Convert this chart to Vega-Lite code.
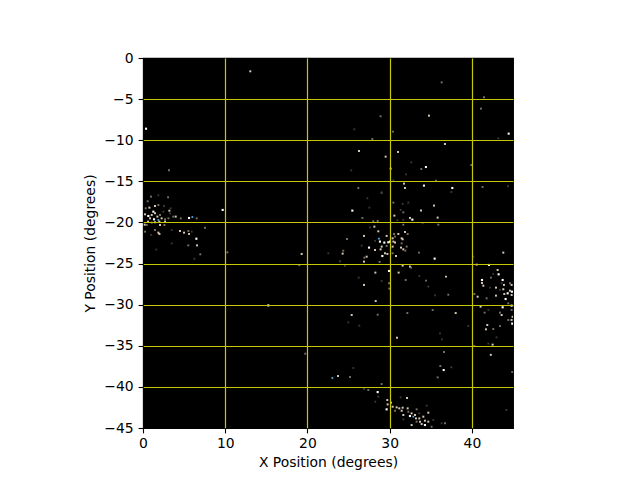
{"$schema":"https://vega.github.io/schema/vega-lite/v6.json","autosize":"none","padding":{"left":143,"top":58,"right":127,"bottom":52},"width":370,"height":370,"background":"white","view":{"fill":"black","stroke":"black","strokeWidth":1.1},
"data":{"values":[
{"x":36.32,"y":-2.96,"c":"g"},{"x":41.47,"y":-4.78,"c":"g"},{"x":41.1,"y":-6.16,"c":"g"},{"x":34.78,"y":-7.01,"c":"t"},{"x":28.9,"y":-7.09,"c":"g"},{"x":25.7,"y":-8.67,"c":"d"},{"x":30.4,"y":-8.96,"c":"g"},{"x":27.89,"y":-9.85,"c":"g"},{"x":44.47,"y":-9.2,"c":"w"},{"x":43.21,"y":-9.77,"c":"d"},{"x":36.72,"y":-10.46,"c":"t"},{"x":26.27,"y":-11.31,"c":"t"},{"x":31.01,"y":-11.43,"c":"t"},{"x":29.51,"y":-12.0,"c":"t"},{"x":32.63,"y":-12.69,"c":"d"},{"x":30.12,"y":-13.46,"c":"t"},{"x":25.33,"y":-13.66,"c":"d"},{"x":39.93,"y":-13.01,"c":"g"},{"x":34.41,"y":-13.26,"c":"w"},{"x":33.85,"y":-13.5,"c":"g"},{"x":31.98,"y":-14.15,"c":"d"},{"x":30.44,"y":-14.88,"c":"d"},{"x":35.63,"y":-14.92,"c":"g"},{"x":31.74,"y":-15.28,"c":"t"},{"x":34.17,"y":-15.52,"c":"w"},{"x":37.62,"y":-15.81,"c":"W"},{"x":31.86,"y":-15.81,"c":"t"},{"x":26.19,"y":-15.81,"c":"g"},{"x":41.3,"y":-15.69,"c":"g"},{"x":29.02,"y":-16.38,"c":"g"},{"x":37.5,"y":-16.3,"c":"d"},{"x":44.4,"y":-15.6,"c":"d"},
{"x":13.05,"y":-1.62,"c":"t"},{"x":0.37,"y":-8.6,"c":"W"},{"x":3.16,"y":-13.66,"c":"g"},
{"x":24.81,"y":-22.01,"c":"g"},{"x":24.36,"y":-23.43,"c":"g"},{"x":24.28,"y":-23.79,"c":"t"},{"x":22.54,"y":-23.75,"c":"d"},{"x":19.3,"y":-23.83,"c":"t"},{"x":19.01,"y":-25.2,"c":"g"},{"x":24.56,"y":-25.29,"c":"d"},{"x":23.95,"y":-24.72,"c":"d"},
{"x":28.3,"y":-29.56,"c":"t"},{"x":25.38,"y":-31.26,"c":"t"},{"x":28.54,"y":-31.22,"c":"g"},{"x":32.15,"y":-31.02,"c":"g"},{"x":35.23,"y":-30.65,"c":"g"},{"x":38.03,"y":-31.02,"c":"t"},{"x":39.57,"y":-32.6,"c":"d"},{"x":26.31,"y":-32.56,"c":"d"},{"x":24.97,"y":-32.15,"c":"d"},{"x":30.89,"y":-34.02,"c":"t"},{"x":36.12,"y":-33.49,"c":"d"},{"x":36.36,"y":-34.22,"c":"d"},{"x":40.3,"y":-35.03,"c":"g"},{"x":19.74,"y":-35.96,"c":"g"},{"x":36.61,"y":-35.76,"c":"g"},{"x":36.16,"y":-37.46,"c":"g"},{"x":36.57,"y":-37.95,"c":"W"},{"x":37.5,"y":-37.62,"c":"d"},{"x":35.84,"y":-38.84,"c":"g"},{"x":25.58,"y":-37.7,"c":"d"},{"x":23.03,"y":-38.92,"c":"b"},{"x":23.72,"y":-38.68,"c":"t"},{"x":25.18,"y":-38.8,"c":"g"},{"x":37.13,"y":-28.79,"c":"g"},{"x":40.3,"y":-28.7,"c":"g"},{"x":40.7,"y":-29.03,"c":"t"},{"x":35.51,"y":-28.87,"c":"d"},
{"x":6.49,"y":-21.98,"c":"W"},{"x":6.57,"y":-22.79,"c":"t"},{"x":5.51,"y":-22.79,"c":"g"},{"x":6.97,"y":-23.88,"c":"g"},{"x":6.24,"y":-24.41,"c":"d"},{"x":10.26,"y":-23.64,"c":"g"},{"x":15.24,"y":-30.09,"c":"W"},{"x":7.54,"y":-20.64,"c":"g"},{"x":1.62,"y":-23.3,"c":"d"},{"x":3.49,"y":-22.55,"c":"d"},
{"x":9.69,"y":-18.48,"c":"W"},{"x":0.98,"y":-16.86,"c":"g"},{"x":1.87,"y":-16.7,"c":"d"},{"x":3.05,"y":-16.94,"c":"g"},{"x":0.57,"y":-17.43,"c":"g"},{"x":1.46,"y":-18,"c":"t"},{"x":0.78,"y":-18.2,"c":"t"},{"x":0.33,"y":-18.28,"c":"g"},{"x":1.26,"y":-18.69,"c":"W"},{"x":1.87,"y":-17.88,"c":"g"},{"x":2.56,"y":-18,"c":"d"},{"x":3.21,"y":-18.57,"c":"t"},{"x":3.37,"y":-18.28,"c":"d"},{"x":0.25,"y":-19.01,"c":"t"},{"x":0.65,"y":-19.21,"c":"W"},{"x":1.06,"y":-19.09,"c":"t"},{"x":1.46,"y":-18.89,"c":"t"},{"x":1.75,"y":-19.29,"c":"t"},{"x":2.07,"y":-19.09,"c":"g"},{"x":0.86,"y":-19.5,"c":"t"},{"x":1.34,"y":-19.62,"c":"W"},{"x":1.87,"y":-19.7,"c":"b"},{"x":2.27,"y":-19.5,"c":"t"},{"x":2.68,"y":-19.62,"c":"g"},{"x":3.09,"y":-19.5,"c":"g"},{"x":3.98,"y":-19.29,"c":"t"},{"x":4.59,"y":-19.5,"c":"g"},{"x":5.6,"y":-19.46,"c":"W"},{"x":6.0,"y":-19.34,"c":"b"},{"x":6.53,"y":-19.5,"c":"g"},{"x":3.69,"y":-19.29,"c":"g"},{"x":3.29,"y":-18.89,"c":"d"},{"x":2.48,"y":-18.69,"c":"d"},{"x":0.61,"y":-19.9,"c":"t"},{"x":1.06,"y":-20.02,"c":"g"},{"x":1.46,"y":-19.98,"c":"t"},{"x":1.99,"y":-19.9,"c":"t"},{"x":2.68,"y":-19.9,"c":"t"},{"x":0.21,"y":-20.27,"c":"t"},{"x":0.45,"y":-20.31,"c":"g"},{"x":2.07,"y":-20.31,"c":"t"},{"x":2.6,"y":-20.31,"c":"g"},{"x":1.46,"y":-20.92,"c":"g"},{"x":1.87,"y":-21.24,"c":"t"},{"x":2,"y":-21.4,"c":"t"},{"x":0.25,"y":-21.12,"c":"g"},{"x":0.98,"y":-21.52,"c":"d"},{"x":3.49,"y":-20.92,"c":"d"},{"x":4.5,"y":-21.04,"c":"t"},{"x":4.99,"y":-21.24,"c":"t"},{"x":5.52,"y":-21.04,"c":"g"},{"x":5.6,"y":-21.4,"c":"t"},{"x":5.92,"y":-21.12,"c":"d"},
{"x":25.46,"y":-18.56,"c":"W"},{"x":29.03,"y":-16.37,"c":"d"},{"x":27.28,"y":-17.06,"c":"d"},{"x":30.45,"y":-17.59,"c":"g"},{"x":31.58,"y":-17.75,"c":"d"},{"x":32.27,"y":-17.59,"c":"d"},{"x":35.39,"y":-17.95,"c":"t"},{"x":27.53,"y":-18.2,"c":"d"},{"x":31.34,"y":-18.48,"c":"d"},{"x":31.66,"y":-18.77,"c":"g"},{"x":33.81,"y":-18.56,"c":"t"},{"x":30.57,"y":-19.17,"c":"t"},{"x":26.68,"y":-19.45,"c":"g"},{"x":32.47,"y":-19.45,"c":"t"},{"x":32.76,"y":-19.66,"c":"W"},{"x":35.84,"y":-19.41,"c":"t"},{"x":31.66,"y":-19.7,"c":"d"},{"x":28.01,"y":-19.86,"c":"g"},{"x":28.54,"y":-19.82,"c":"g"},{"x":30.93,"y":-19.74,"c":"d"},{"x":35.92,"y":-20.27,"c":"g"},{"x":31.66,"y":-20.27,"c":"g"},{"x":34.01,"y":-20.1,"c":"d"},{"x":27.61,"y":-20.59,"c":"d"},{"x":28.14,"y":-20.51,"c":"t"},{"x":28.62,"y":-21.08,"c":"t"},{"x":31.86,"y":-21.16,"c":"t"},{"x":32.19,"y":-21.4,"c":"g"},{"x":26.88,"y":-21.64,"c":"t"},{"x":30.53,"y":-21.4,"c":"g"},{"x":31.05,"y":-21.4,"c":"t"},{"x":29.63,"y":-21.64,"c":"t"},{"x":31.46,"y":-21.93,"c":"t"},{"x":31.58,"y":-22.05,"c":"t"},{"x":30.36,"y":-21.93,"c":"t"},{"x":30.65,"y":-21.72,"c":"g"},{"x":28.7,"y":-21.97,"c":"b"},{"x":28.22,"y":-22.25,"c":"d"},{"x":28.82,"y":-22.33,"c":"W"},{"x":29.35,"y":-22.45,"c":"W"},{"x":29.84,"y":-22.41,"c":"W"},{"x":30.04,"y":-22.33,"c":"W"},{"x":30.45,"y":-22.33,"c":"t"},{"x":30.65,"y":-22.45,"c":"t"},{"x":31.46,"y":-22.54,"c":"g"},{"x":29.03,"y":-22.94,"c":"t"},{"x":29.63,"y":-22.86,"c":"g"},{"x":30.36,"y":-22.94,"c":"t"},{"x":26.59,"y":-22.82,"c":"d"},{"x":27.49,"y":-23.06,"c":"W"},{"x":28.22,"y":-23.35,"c":"t"},{"x":28.9,"y":-23.27,"c":"t"},{"x":31.38,"y":-23.06,"c":"t"},{"x":31.66,"y":-23.27,"c":"t"},{"x":32.07,"y":-22.94,"c":"g"},{"x":31.9,"y":-23.43,"c":"g"},{"x":33.57,"y":-23.67,"c":"g"},{"x":29.43,"y":-23.75,"c":"t"},{"x":29.72,"y":-23.83,"c":"t"},{"x":29.11,"y":-24.08,"c":"W"},{"x":27.2,"y":-24.16,"c":"t"},{"x":26.92,"y":-24.28,"c":"g"},{"x":30.77,"y":-24.08,"c":"t"},{"x":30.36,"y":-23.75,"c":"g"},{"x":35.47,"y":-24.4,"c":"W"},{"x":26.88,"y":-24.77,"c":"t"},{"x":28.78,"y":-24.8,"c":"g"},{"x":31.58,"y":-25.25,"c":"t"},{"x":32.47,"y":-25.37,"c":"t"},{"x":32.6,"y":-25.49,"c":"g"},{"x":29.92,"y":-25.9,"c":"W"},{"x":28.26,"y":-26.1,"c":"t"},{"x":31.09,"y":-26.1,"c":"t"},{"x":26.23,"y":-26.71,"c":"d"},{"x":31.95,"y":-27.0,"c":"g"},{"x":34.42,"y":-27.08,"c":"g"},{"x":36.85,"y":-26.59,"c":"t"},{"x":29.03,"y":-27.12,"c":"d"},{"x":26.88,"y":-27.6,"c":"t"},{"x":29.92,"y":-27.4,"c":"g"},{"x":33.6,"y":-26.5,"c":"d"},{"x":34.7,"y":-27.8,"c":"d"},{"x":29.96,"y":-28.05,"c":"g"},
{"x":29.02,"y":-39.65,"c":"g"},{"x":27.4,"y":-40.38,"c":"g"},{"x":26.88,"y":-40.26,"c":"d"},{"x":28.54,"y":-40.63,"c":"W"},{"x":28.62,"y":-41.19,"c":"d"},{"x":31.34,"y":-41.27,"c":"d"},{"x":32.11,"y":-41.35,"c":"t"},{"x":29.71,"y":-41.6,"c":"t"},{"x":28.25,"y":-41.8,"c":"d"},{"x":29.75,"y":-42.13,"c":"t"},{"x":30.16,"y":-41.92,"c":"t"},{"x":29.63,"y":-42.73,"c":"W"},{"x":30.36,"y":-42.41,"c":"t"},{"x":30.85,"y":-42.49,"c":"t"},{"x":31.17,"y":-42.61,"c":"t"},{"x":31.58,"y":-42.53,"c":"t"},{"x":30.65,"y":-42.9,"c":"g"},{"x":31.46,"y":-42.9,"c":"t"},{"x":32.19,"y":-42.61,"c":"t"},{"x":33.28,"y":-42.73,"c":"g"},{"x":34.5,"y":-42.29,"c":"d"},{"x":34.7,"y":-43.14,"c":"t"},{"x":31.66,"y":-43.42,"c":"t"},{"x":32.67,"y":-43.22,"c":"t"},{"x":33.08,"y":-43.42,"c":"t"},{"x":33.6,"y":-43.22,"c":"d"},{"x":32.27,"y":-43.02,"c":"g"},{"x":32.88,"y":-43.62,"c":"b"},{"x":32.47,"y":-43.54,"c":"W"},{"x":33.2,"y":-43.83,"c":"t"},{"x":33.6,"y":-43.83,"c":"t"},{"x":34.09,"y":-43.62,"c":"t"},{"x":34.29,"y":-44.11,"c":"t"},{"x":34.7,"y":-44.23,"c":"t"},{"x":33.69,"y":-44.23,"c":"t"},{"x":33.28,"y":-44.23,"c":"g"},{"x":33.89,"y":-44.52,"c":"t"},{"x":32.67,"y":-44.64,"c":"t"},{"x":34.29,"y":-44.64,"c":"W"},{"x":35.1,"y":-44.84,"c":"g"},{"x":36.32,"y":-44.43,"c":"d"},{"x":36.73,"y":-44.43,"c":"g"},{"x":35.3,"y":-44.03,"c":"d"},{"x":31.66,"y":-43.95,"c":"d"},
{"x":43.82,"y":-23.67,"c":"t"},{"x":40.58,"y":-25.13,"c":"t"},{"x":42.08,"y":-25.17,"c":"W"},{"x":40.17,"y":-24.16,"c":"d"},{"x":43.13,"y":-25.78,"c":"t"},{"x":43.25,"y":-26.31,"c":"W"},{"x":42.6,"y":-26.27,"c":"d"},{"x":41.23,"y":-27.0,"c":"W"},{"x":41.23,"y":-27.36,"c":"t"},{"x":42.32,"y":-26.71,"c":"g"},{"x":43.74,"y":-27,"c":"W"},{"x":43.62,"y":-27.4,"c":"d"},{"x":43.9,"y":-27.6,"c":"t"},{"x":44.63,"y":-27.4,"c":"g"},{"x":44.83,"y":-27.6,"c":"t"},{"x":41.39,"y":-27.69,"c":"t"},{"x":42.93,"y":-27.93,"c":"t"},{"x":42.2,"y":-27.93,"c":"d"},{"x":43.41,"y":-28.21,"c":"d"},{"x":43.82,"y":-28.13,"c":"t"},{"x":44.63,"y":-28.3,"c":"t"},{"x":44.87,"y":-28.42,"c":"W"},{"x":44.35,"y":-28.62,"c":"W"},{"x":43.94,"y":-28.7,"c":"t"},{"x":44.83,"y":-28.82,"c":"t"},{"x":42.93,"y":-28.9,"c":"t"},{"x":44.1,"y":-29.31,"c":"W"},{"x":41.79,"y":-29.23,"c":"g"},{"x":44.43,"y":-29.84,"c":"g"},{"x":44.83,"y":-30.12,"c":"W"},{"x":43.74,"y":-30.32,"c":"W"},{"x":41.06,"y":-30.24,"c":"t"},{"x":42,"y":-30.65,"c":"d"},{"x":44.83,"y":-30.65,"c":"g"},{"x":43.41,"y":-30.97,"c":"g"},{"x":43.62,"y":-31.26,"c":"t"},{"x":41.55,"y":-30.97,"c":"g"},{"x":44.95,"y":-31.46,"c":"t"},{"x":44.43,"y":-31.86,"c":"g"},{"x":44.83,"y":-31.86,"c":"t"},{"x":44.91,"y":-32.31,"c":"W"},{"x":43.41,"y":-32.6,"c":"g"},{"x":41.87,"y":-32.47,"c":"t"},{"x":41.71,"y":-33,"c":"t"},{"x":42.6,"y":-32.96,"c":"g"},{"x":43,"y":-33.97,"c":"d"},{"x":42,"y":-34.74,"c":"d"},{"x":42.52,"y":-34.86,"c":"t"},{"x":42.3,"y":-36.1,"c":"t"},{"x":44.9,"y":-38.2,"c":"g"},{"x":44.2,"y":-42.8,"c":"d"}
]},
"mark":{"type":"point","shape":"square","filled":true,"opacity":1,"clip":true},
"encoding":{
"x":{"field":"x","type":"quantitative","scale":{"domain":[0,45],"nice":false,"zero":false},"axis":{"title":"X Position (degrees)","values":[0,10,20,30,40],"gridColor":"#c8c800","gridWidth":1.2,"gridOpacity":{"condition":{"test":"datum.value==0","value":0},"value":1},"grid":true,"zindex":1,"domain":false,"tickColor":"black","tickSize":4.9,"tickWidth":1.1,"labelColor":"black","titleColor":"black","labelFont":"DejaVu Sans","titleFont":"DejaVu Sans","labelFontSize":13.9,"titleFontSize":13.9,"titleFontWeight":"normal","labelPadding":4,"titlePadding":5,"labelFlush":false}},
"y":{"field":"y","type":"quantitative","scale":{"domain":[-45,0],"nice":false,"zero":false},"axis":{"title":"Y Position (degrees)","values":[-45,-40,-35,-30,-25,-20,-15,-10,-5,0],"labelExpr":"replace(datum.label,'-','−')","gridColor":"#c8c800","gridWidth":1.2,"gridOpacity":{"condition":{"test":"datum.value==0 || datum.value==-45","value":0},"value":1},"grid":true,"zindex":1,"domain":false,"tickColor":"black","tickSize":4.9,"tickWidth":1.1,"labelColor":"black","titleColor":"black","labelFont":"DejaVu Sans","titleFont":"DejaVu Sans","labelFontSize":13.9,"titleFontSize":13.9,"titleFontWeight":"normal","labelPadding":5,"titlePadding":6,"labelFlush":false}},
"color":{"field":"c","type":"nominal","legend":null,"scale":{"domain":["W","w","t","g","d","b"],"range":["#ffffff","#fff8ee","#d8c8b4","#7a7468","#3e3a34","#5ab0f0"]}},
"size":{"field":"c","type":"nominal","legend":null,"scale":{"domain":["W","w","t","g","d","b"],"range":[4.5,3,1.8,1.2,1,1.5]}}
}}
